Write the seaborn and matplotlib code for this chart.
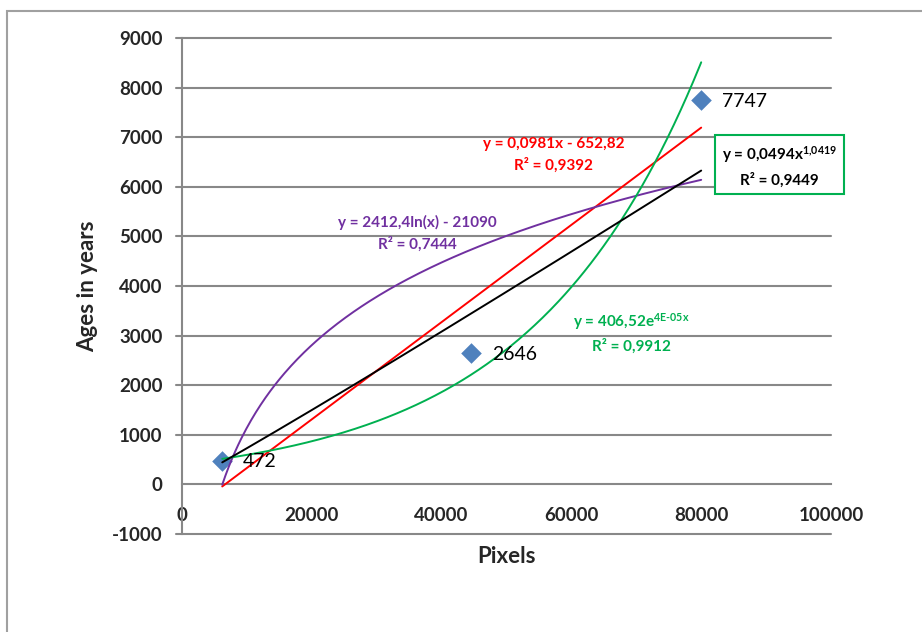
import numpy as np
import pandas as pd
import matplotlib
matplotlib.use("Agg")
import matplotlib.pyplot as plt
from matplotlib.patches import Rectangle
import seaborn as sns

# Data
pixels = [6200, 44500, 80000]
ages = [472, 2646, 7747]
point_labels = ["472", "2646", "7747"]

x_ticks = [0, 20000, 40000, 60000, 80000, 100000]
y_ticks = [-1000, 0, 1000, 2000, 3000, 4000, 5000, 6000, 7000, 8000, 9000]

sns.set_style("white")
plt.rcParams['font.family'] = ['Lato', 'DejaVu Sans']
plt.rcParams['mathtext.fontset'] = 'custom'
plt.rcParams['mathtext.rm'] = 'Lato:bold'
plt.rcParams['mathtext.it'] = 'Lato:bold'
plt.rcParams['mathtext.bf'] = 'Lato:bold'
plt.rcParams['mathtext.default'] = 'rm'

GRID = '#888888'
BLUE = '#4F81BD'
RED = '#FF0000'
PURPLE = '#7030A0'
GREEN = '#00B050'

fig = plt.figure(figsize=(9.22, 6.32), dpi=100)
ax = fig.add_axes([182 / 922, 1 - 534 / 632, (831 - 182) / 922, (534 - 38) / 632])

# trendlines, fitted from the points the same way the spreadsheet does
x = np.array(pixels, dtype=float)
y = np.array(ages, dtype=float)
xs = np.linspace(x.min(), x.max(), 300)

lin = np.polyfit(x, y, 1)
logf = np.polyfit(np.log(x), y, 1)
expf = np.polyfit(x, np.log(y), 1)
powf = np.polyfit(np.log(x), np.log(y), 1)

trends = pd.DataFrame({
    'x': np.tile(xs, 4),
    'y': np.concatenate([
        np.polyval(lin, xs),
        np.polyval(logf, np.log(xs)),
        np.exp(np.polyval(expf, xs)),
        np.exp(np.polyval(powf, np.log(xs))),
    ]),
    'fit': np.repeat(['linear', 'log', 'exp', 'power'], len(xs)),
})

sns.lineplot(data=trends, x='x', y='y', hue='fit',
             palette={'linear': RED, 'log': PURPLE, 'exp': GREEN, 'power': 'black'},
             linewidth=1.4, legend=False, ax=ax, zorder=3)

pts = pd.DataFrame({'Pixels': pixels, 'Ages': ages})
sns.scatterplot(data=pts, x='Pixels', y='Ages', marker='D', s=110, color=BLUE,
                edgecolor=BLUE, linewidth=0, ax=ax, zorder=2)

for px, ag, lab in zip(pixels, ages, point_labels):
    ax.annotate(lab, (px, ag), xytext=(21, -1), textcoords='offset pixels',
                ha='left', va='center', fontsize=14, color='black', zorder=4)

# axes
ax.spines['top'].set_visible(False)
ax.spines['right'].set_visible(False)
ax.spines['bottom'].set_position(('data', 0))
ax.spines['bottom'].set_color(GRID)
ax.spines['bottom'].set_linewidth(1.5)
ax.spines['left'].set_color(GRID)
ax.spines['left'].set_linewidth(1.5)

ax.set_xlim(0, 100000)
ax.set_ylim(-1000, 9000)
ax.set_xticks(x_ticks)
ax.set_yticks(y_ticks)
ax.set_xticklabels([str(t) for t in x_ticks], fontsize=13.5, fontweight='bold')
ax.set_yticklabels([str(t) for t in y_ticks], fontsize=13.5, fontweight='bold')
ax.tick_params(axis='x', direction='out', length=6, width=1.5, color=GRID, pad=10)
ax.tick_params(axis='y', direction='out', length=6, width=1.5, color=GRID, pad=8)

for t in y_ticks:
    if t != 0:
        ax.axhline(t, color=GRID, lw=1.5, zorder=0, clip_on=False,
                   xmin=-6 / 649, xmax=1)

ax.set_xlabel('Pixels', fontsize=16, fontweight='bold')
ax.set_ylabel('Ages in years', fontsize=16, fontweight='bold', labelpad=10)
ax.xaxis.set_label_coords(0.5, -0.025)

# equations
eq_kw = dict(ha='center', va='center', fontsize=11, fontweight='bold',
             multialignment='center', linespacing=1.55, zorder=5)
ax.text(57300, 6640, "y = 0,0981x - 652,82\nR² = 0,9392", color=RED, **eq_kw)
ax.text(36300, 5070, "y = 2412,4ln(x) - 21090\nR² = 0,7444", color=PURPLE, **eq_kw)
ax.text(69300, 3060, "y = 406,52e$^{\\text{4E-05x}}$\nR² = 0,9912", color=GREEN, **eq_kw)
ax.text(92100, 6420, "y = 0,0494x$^{\\text{1,0419}}$\nR² = 0,9449", color='black',
        bbox=dict(boxstyle='square,pad=0.45', facecolor='white', edgecolor=GREEN, lw=1.5),
        **eq_kw)

# chart frame
fig.patches.append(Rectangle((7 / 922, -0.05), 1.1, 1 - 11 / 632 + 0.05,
                             transform=fig.transFigure, fill=False,
                             edgecolor='#A0A0A0', lw=1.5))

fig.savefig('out.png', dpi=100)
